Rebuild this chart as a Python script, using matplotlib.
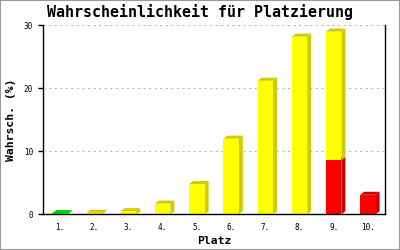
import numpy as np
import matplotlib
matplotlib.use("Agg")
import matplotlib.pyplot as plt
from matplotlib.patches import Rectangle, Polygon

plaetze = ["1.", "2.", "3.", "4.", "5.", "6.", "7.", "8.", "9.", "10."]
gruen = [0.2, 0, 0, 0, 0, 0, 0, 0, 0, 0]
rot = [0, 0, 0, 0, 0, 0, 0, 0, 8.6, 3.1]
gelb = [0, 0.25, 0.5, 1.7, 4.8, 12.0, 21.2, 28.2, 20.4, 0]

farben = [("#00ee00", "#00cc00", gruen), ("#ff0000", "#cc0000", rot), ("#ffff00", "#cccc00", gelb)]

mono = "DejaVu Sans Mono"
fig = plt.figure(figsize=(4, 2.5), dpi=100)
ax = fig.add_axes([43/400, 1-214.3/250, 342/400, 189/250])
ax.set_xlim(0.5, 10.5)
ax.set_ylim(0, 30)

w = 0.45
dx = 4/34.2
dy = 3/6.3
x = np.arange(1, 11)
unten = np.zeros(10)
for front, dunkel, werte in farben:
    for i in range(10):
        h = werte[i]
        if h <= 0:
            continue
        b = unten[i]
        l, r = x[i]-w/2, x[i]+w/2
        ax.add_patch(Polygon([(r, b), (r+dx, b+dy), (r+dx, b+h+dy), (r, b+h)],
                             closed=True, facecolor=dunkel, edgecolor="none", zorder=2))
        ax.add_patch(Polygon([(l, b+h), (l+dx, b+h+dy), (r+dx, b+h+dy), (r, b+h)],
                             closed=True, facecolor=dunkel, edgecolor="none", zorder=2))
        ax.add_patch(Rectangle((l, b), w, h, facecolor=front, edgecolor="none", zorder=3))
    unten = unten + np.array(werte)

ax.set_yticks([0, 10, 20, 30])
ax.set_xticks(x)
ax.set_xticklabels(plaetze, fontfamily=mono, fontsize=5.5)
for t in ax.get_yticklabels():
    t.set_fontfamily(mono)
    t.set_fontsize(5.5)
ax.tick_params(axis="x", length=0, pad=6)
ax.tick_params(axis="y", length=3.6, width=1, pad=3.5)
ax.grid(axis="y", color="#bbbbbb", linestyle=(0, (2, 3)), linewidth=0.8, zorder=0)
ax.set_axisbelow(True)
ax.spines["top"].set_visible(False)
for s in ["left", "bottom", "right"]:
    ax.spines[s].set_linewidth(1)
    ax.spines[s].set_color("black")
    ax.spines[s].set_zorder(5)

ax.set_xlabel("Platz", fontfamily=mono, fontweight="bold", fontsize=8.2, labelpad=3)
ax.set_ylabel("Wahrsch. (%)", fontfamily=mono, fontweight="bold", fontsize=8.2, labelpad=6)
fig.text(0.5, 1-12/250, "Wahrscheinlichkeit für Platzierung", ha="center", va="center",
         fontfamily=mono, fontweight="bold", fontsize=10.8)

fig.add_artist(Rectangle((0, 0), 1, 1, transform=fig.transFigure, fill=False,
                         edgecolor="#999999", linewidth=1.5))

fig.savefig("out.png", dpi=100)
